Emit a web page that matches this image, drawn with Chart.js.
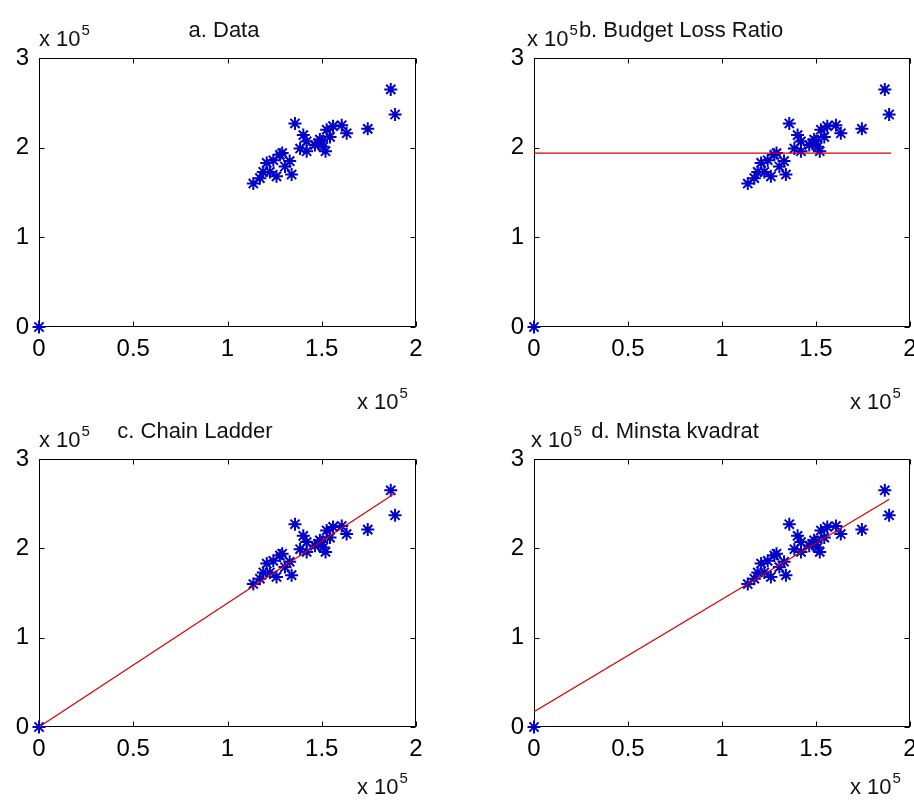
<!DOCTYPE html>
<html>
<head>
<meta charset="utf-8">
<script src="https://cdn.jsdelivr.net/npm/chart.js@4/dist/chart.umd.min.js"></script>
<style>
  body { margin: 0; background: #fff; width: 914px; height: 808px; overflow: hidden; position: relative;
         font-family: "Liberation Sans", Arial, sans-serif; }
  .panel { position: absolute; width: 457px; height: 404px; }
  .lbl { position: absolute; font-size: 22px; line-height: 1; color: #111; white-space: nowrap; }
  .exp { position: relative; top: -11px; font-size: 15px; margin-left: 1px; }
</style>
</head>
<body>

<div class="panel" style="left:0;top:0"><canvas id="chartA" width="457" height="404"></canvas></div>
<div class="panel" style="left:457px;top:0"><canvas id="chartB" width="457" height="404"></canvas></div>
<div class="panel" style="left:0;top:404px"><canvas id="chartC" width="457" height="404"></canvas></div>
<div class="panel" style="left:457px;top:404px"><canvas id="chartD" width="457" height="404"></canvas></div>

<!-- titles and axis multipliers -->
<div class="lbl" style="left:224px;top:19px;transform:translateX(-50%)">a. Data</div>
<div class="lbl" style="left:681px;top:19px;transform:translateX(-50%)">b. Budget Loss Ratio</div>
<div class="lbl" style="left:195px;top:420px;transform:translateX(-50%)">c. Chain Ladder</div>
<div class="lbl" style="left:675px;top:420px;transform:translateX(-50%)">d. Minsta kvadrat</div>

<div class="lbl" style="left:39px;top:28px">x 10<span class="exp">5</span></div>
<div class="lbl" style="left:527px;top:28px">x 10<span class="exp">5</span></div>
<div class="lbl" style="left:39px;top:429px">x 10<span class="exp">5</span></div>
<div class="lbl" style="left:531px;top:429px">x 10<span class="exp">5</span></div>

<div class="lbl" style="left:357px;top:391px">x 10<span class="exp">5</span></div>
<div class="lbl" style="left:850px;top:391px">x 10<span class="exp">5</span></div>
<div class="lbl" style="left:357px;top:776px">x 10<span class="exp">5</span></div>
<div class="lbl" style="left:850px;top:776px">x 10<span class="exp">5</span></div>

<script>
// DATA

const xTicks = [0, 50000, 100000, 150000, 200000];
const yTicks = [0, 100000, 200000, 300000];

// observed pairs (x, y)
const claimX = [0, 186600, 188900, 174400, 160600, 163200, 156000, 152600, 149000, 150800,
  146400, 154400, 150000, 148000, 152000, 135800, 140200, 142000, 138500, 142000,
  127800, 129000, 124300, 120800, 133000, 130500, 122500, 134000, 126000, 117200,
  113700, 119000];
const claimY = [0, 265000, 237000, 221000, 225000, 216000, 224000, 220000, 209000, 201000,
  203000, 212000, 207000, 205000, 196000, 227000, 214000, 207000, 199000, 196000,
  192000, 194000, 186000, 183000, 185000, 179000, 173000, 170000, 168000, 166000,
  160000, 173000];

// fitted lines
const blrX = [0, 190000];
const blrY = [194000, 194000];
const chainX = [0, 189000];
const chainY = [0, 262000];
const lsqX = [0, 189000];
const lsqY = [17000, 255000];

// AXIS BOX PLUGIN (matlab style box with inward ticks)

const boxPlugin = {
  id: "box",
  beforeDatasetsDraw(chart) {
    const ctx = chart.ctx;
    const a = chart.chartArea;
    const xs = chart.scales.x;
    const ys = chart.scales.y;
    const l = Math.round(a.left) + 0.5, r = Math.round(a.right) - 0.5;
    const t = Math.round(a.top) + 0.5, b = Math.round(a.bottom) - 0.5;
    ctx.save();
    ctx.strokeStyle = "#000";
    ctx.lineWidth = 1;
    ctx.strokeRect(l, t, r - l, b - t);
    ctx.beginPath();
    xTicks.forEach((v) => {
      const px = Math.round(xs.getPixelForValue(v)) + 0.5;
      ctx.moveTo(px, b); ctx.lineTo(px, b - 5);
      ctx.moveTo(px, t); ctx.lineTo(px, t + 5);
    });
    yTicks.forEach((v) => {
      const py = Math.round(ys.getPixelForValue(v)) + 0.5;
      ctx.moveTo(l, py); ctx.lineTo(l + 5, py);
      ctx.moveTo(r, py); ctx.lineTo(r - 5, py);
    });
    ctx.stroke();
    ctx.restore();
  },
};

// DRAWING

function toPoints(xs, ys) {
  return xs.map((x, i) => ({ x: x, y: ys[i] }));
}

function draw(id, p) {
  const datasets = [];
  if (p.lineX) {
    datasets.push({
      data: toPoints(p.lineX, p.lineY),
      showLine: true,
      borderColor: "#d40000",
      borderWidth: 1.2,
      pointRadius: 0,
    });
  }
  datasets.push({
    data: toPoints(claimX, claimY),
    pointStyle: "star",
    pointRadius: 6.5,
    borderColor: "#0000c8",
    backgroundColor: "#0000c8",
    borderWidth: 2,
    clip: false,
  });

  new Chart(document.getElementById(id), {
    type: "scatter",
    data: { datasets: datasets },
    options: {
      responsive: false,
      animation: false,
      layout: { autoPadding: false, padding: { top: p.top, right: p.right, left: 0, bottom: 0 } },
      plugins: { legend: { display: false }, tooltip: { enabled: false } },
      scales: {
        x: {
          min: 0, max: 200000,
          afterFit: (s) => { s.height = p.xh; s.paddingLeft = 0; s.paddingRight = 0; },
          afterBuildTicks: (s) => { s.ticks = xTicks.map((v) => ({ value: v })); },
          grid: { display: false, drawTicks: false },
          border: { display: false },
          ticks: {
            autoSkip: false, maxRotation: 0, padding: 8, color: "#000",
            font: { family: "Liberation Sans", size: 24 },
            callback: (v) => v / 100000,
          },
        },
        y: {
          min: 0, max: 300000,
          afterFit: (s) => { s.width = p.yw; s.paddingTop = 0; s.paddingBottom = 0; },
          afterBuildTicks: (s) => { s.ticks = yTicks.map((v) => ({ value: v })); },
          grid: { display: false, drawTicks: false },
          border: { display: false },
          ticks: {
            autoSkip: false, padding: 10, color: "#000",
            font: { family: "Liberation Sans", size: 24 },
            callback: (v) => v / 100000,
          },
        },
      },
    },
    plugins: [boxPlugin],
  });
}

draw("chartA", { top: 58, right: 41, yw: 39, xh: 77 });
draw("chartB", { top: 58, right: 4, yw: 77, xh: 77, lineX: blrX, lineY: blrY });
draw("chartC", { top: 55, right: 41, yw: 39, xh: 81, lineX: chainX, lineY: chainY });
draw("chartD", { top: 55, right: 4, yw: 77, xh: 81, lineX: lsqX, lineY: lsqY });
</script>
</body>
</html>
